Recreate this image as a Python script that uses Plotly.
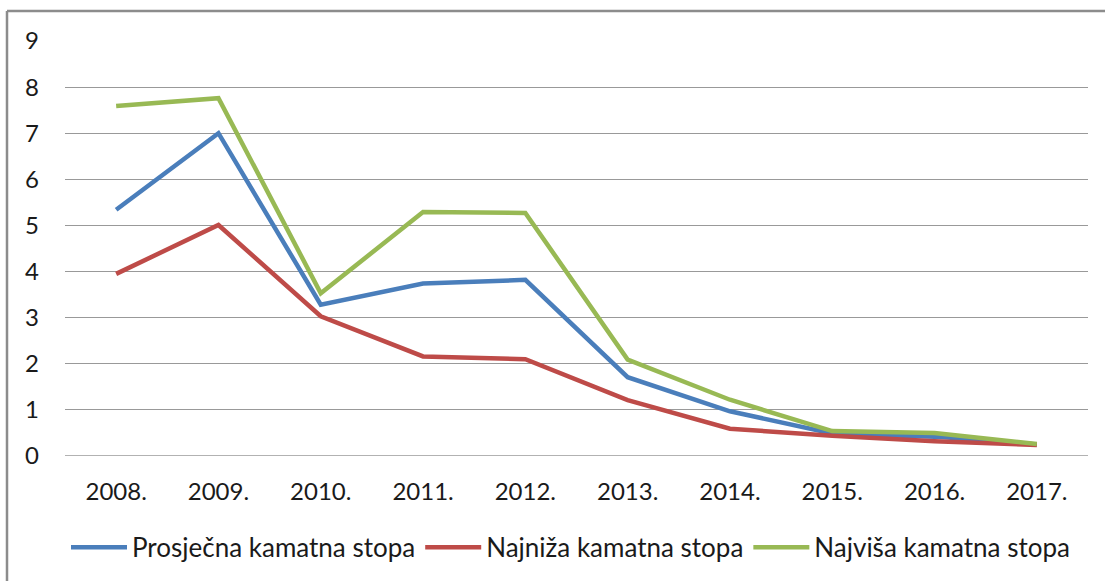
import plotly.graph_objects as go

years = ["2008.", "2009.", "2010.", "2011.", "2012.", "2013.", "2014.", "2015.", "2016.", "2017."]
prosjecna = [5.34, 7.00, 3.28, 3.74, 3.82, 1.71, 0.97, 0.49, 0.42, 0.25]
najniza = [3.95, 5.01, 3.03, 2.16, 2.10, 1.21, 0.59, 0.44, 0.32, 0.24]
najvisa = [7.59, 7.76, 3.53, 5.29, 5.27, 2.09, 1.22, 0.54, 0.50, 0.26]

series_names = ["Prosječna kamatna stopa", "Najniža kamatna stopa", "Najviša kamatna stopa"]
colors = ["#4A7EBB", "#BE4B48", "#98B954"]

FONT = "Lato"
TXT = "#1a1a1a"

fig = go.Figure()
for name, vals, col in zip(series_names, [prosjecna, najniza, najvisa], colors):
    fig.add_trace(go.Scatter(x=years, y=vals, name=name, mode="lines",
                             line=dict(color=col, width=4.5)))

W, H = 1105, 581
L, R, T, B = 65, 17, 41, 124.5
pw = W - L - R
ph = H - T - B

def px_to_paper_x(px):
    return (px - L) / pw

def px_to_paper_y(py):
    return (H - B - py) / ph

fig.update_layout(
    width=W, height=H,
    margin=dict(l=L, r=R, t=T, b=B, autoexpand=False),
    paper_bgcolor="white", plot_bgcolor="white",
    font=dict(family=FONT, size=24, color=TXT),
    showlegend=True,
    legend=dict(orientation="h", x=px_to_paper_x(66), xanchor="left", y=px_to_paper_y(548), yanchor="middle",
                font=dict(family=FONT, size=26, color=TXT),
                itemwidth=56, traceorder="normal", tracegroupgap=0,
                bgcolor="rgba(0,0,0,0)"),
    xaxis=dict(type="category", range=[-0.5, 9.5], showgrid=False, zeroline=False,
               showline=False, ticks="", ticklabelstandoff=19,
               tickfont=dict(family=FONT, size=24, color=TXT)),
    yaxis=dict(range=[0, 9], tick0=0, dtick=1, showgrid=True, gridcolor="#999999", gridwidth=1.3,
               zeroline=False, showline=False, ticks="", ticklabelstandoff=25,
               tickfont=dict(family=FONT, size=24, color=TXT)),
    shapes=[
        dict(type="line", xref="paper", yref="paper",
             x0=px_to_paper_x(7), x1=px_to_paper_x(1110), y0=px_to_paper_y(11), y1=px_to_paper_y(11),
             line=dict(color="#8C8C8C", width=2.5)),
        dict(type="line", xref="paper", yref="paper",
             x0=px_to_paper_x(7), x1=px_to_paper_x(7), y0=px_to_paper_y(11), y1=px_to_paper_y(590),
             line=dict(color="#8C8C8C", width=2.5)),
        dict(type="line", xref="paper", yref="y",
             x0=0, x1=1, y0=0, y1=0, layer="below",
             line=dict(color="#999999", width=1.3)),
    ],
)

fig.write_html("out.html", config={"displayModeBar": False},
               post_script="document.body.style.margin='0';document.body.style.overflow='hidden';")
